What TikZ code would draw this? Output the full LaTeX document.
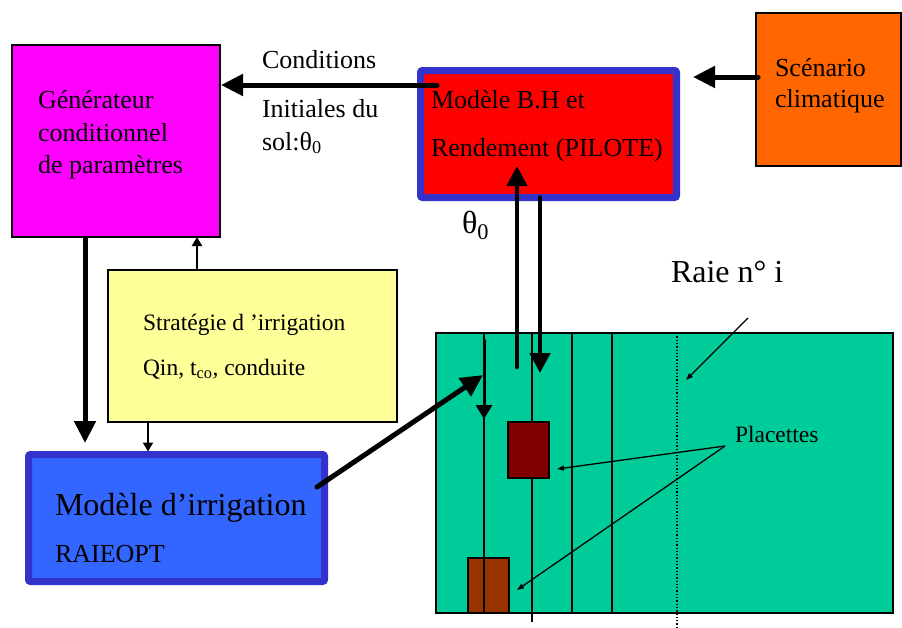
\documentclass[tikz,border=0pt]{standalone}
\usepackage{fontspec}
\setmainfont{Liberation Serif}
\usetikzlibrary{arrows.meta,calc}
\definecolor{genC}{HTML}{FF00FF}
\definecolor{piloteC}{HTML}{FF0000}
\definecolor{frameC}{HTML}{3333CC}
\definecolor{irrC}{HTML}{3366FF}
\definecolor{climC}{HTML}{FF6600}
\definecolor{stratC}{HTML}{FFFF99}
\definecolor{fieldC}{HTML}{00CC99}
\definecolor{plaA}{HTML}{800000}
\definecolor{plaB}{HTML}{993300}
\newcommand\szmain{\fontsize{26}{30}\selectfont}
\newcommand\szmid{\fontsize{23.5}{28}\selectfont}
\newcommand\szbig{\fontsize{32}{36}\selectfont}
\begin{document}
\begin{tikzpicture}[x=1pt,y=-1pt,
  box/.style={draw=black, line width=1.3pt, inner sep=0pt, outer sep=0pt},
  framed/.style={draw=frameC, line width=7pt, rounded corners=2pt, inner sep=0pt, outer sep=0pt},
  txt/.style={inner sep=0pt, outer sep=0pt, anchor=base west, font=\szmain},
  bigarrow/.style={line width=5pt, line cap=round, -{Triangle[length=22pt,width=21pt]}},
  midarrow/.style={line width=4.5pt, line cap=round, -{Triangle[length=20pt,width=20pt]}},
  smallarrow/.style={line width=3pt, -{Triangle[length=14pt,width=16pt]}},
  tinyarrow/.style={line width=2.5pt, -{Triangle[length=9pt,width=10pt]}},
  thinarrow/.style={line width=1.3pt, -{Triangle[length=7pt,width=5pt]}},
  raie/.style={line width=1.3pt}]
\useasboundingbox (0,0) rectangle (902,627);

% boxes
\node[box, fill=genC, minimum width=208pt, minimum height=192pt] (gen) at (116,141) {};
\node[framed, fill=piloteC, minimum width=256pt, minimum height=127pt] (pilote) at (548.5,134) {};
\node[box, fill=climC, minimum width=145pt, minimum height=153pt] (clim) at (828.5,89.5) {};
\node[box, fill=stratC, minimum width=289pt, minimum height=152pt] (strat) at (252.5,346) {};
\node[framed, fill=irrC, minimum width=296pt, minimum height=127pt] (irr) at (176.5,518) {};

% field
\node[box, fill=fieldC, minimum width=457pt, minimum height=280pt] (field) at (664.5,473) {};
\coordinate (r1) at (484,333);
\coordinate (r2) at (532,333);
\coordinate (r3) at (572,333);
\coordinate (r4) at (612,333);
\coordinate (d1) at (677,333);
\draw[raie] (r2) -- ($(r2)+(0,289)$);
\draw[raie] (r3) -- ($(r3)+(0,280)$);
\draw[raie] (r4) -- ($(r4)+(0,280)$);
\draw[line width=1.3pt, dotted] (d1) -- ($(d1)+(0,294)$);
\node[box, fill=plaA, minimum width=41pt, minimum height=56pt] (p1) at (528.5,450) {};
\node[box, fill=plaB, minimum width=41pt, minimum height=55pt] (p2) at (488.5,585.5) {};
\draw[raie] (r1) -- ($(r1)+(0,280)$);

% texts
\node[txt] (g1) at (38,108) {Générateur};
\node[txt] (g2) at (38,141) {conditionnel};
\node[txt] (g3) at (38,173) {de paramètres};
\node[txt] (c1t) at (262,68) {Conditions};
\node[txt] (c2t) at (262,117) {Initiales du};
\node[txt] (c3t) at (262,150) {sol:θ\textsubscript{0}};
\node[txt] (m1) at (431,108) {Modèle B.H et};
\node[txt] (m2) at (431,156) {Rendement (PILOTE)};
\node[txt] (s1) at (775,76) {Scénario};
\node[txt] (s2) at (775,107) {climatique};
\node[txt, font=\szmid] (st1) at (143,330) {Stratégie d ’irrigation};
\node[txt, font=\szmid] (st2) at (143,375) {Qin, t\textsubscript{co}, conduite};
\node[txt, font=\szbig] (i1) at (55,515) {Modèle d’irrigation};
\node[txt] (i2) at (55,562) {RAIEOPT};
\node[txt, font=\szbig] (raielab) at (671,282) {Raie n° i};
\node[txt, font=\szmid] (plalab) at (735,442) {Placettes};
\node[txt, font=\szbig] (theta) at (462,233) {θ\textsubscript{0}};

% connectors
\draw[bigarrow] ($(pilote.north west)+(16.5,14.5)$) -- ($(gen.east)+(1,-56)$);
\draw[bigarrow] ($(clim.west)+(2,-12.5)$) -- ($(pilote.east)+(16.5,-57)$);
\coordinate (x1) at (85,0);
\coordinate (x2) at (197,0);
\coordinate (x3) at (148,0);
\draw[bigarrow, line cap=butt, shorten >=11.5pt] (x1 |- gen.south) -- (x1 |- irr.north);
\draw[tinyarrow] (x2 |- strat.north) -- (x2 |- gen.south);
\draw[tinyarrow, line width=2pt, shorten >=3pt] (x3 |- strat.south) -- (x3 |- irr.north);
\draw[bigarrow] ($(irr.east)+(-7.5,-31)$) -- ($(r1)+(-1,42)$);
\draw[midarrow] ($(field.north west)+(81,34)$) -- ($(pilote.south)+(-31.5,-31.5)$);
\draw[midarrow] ($(pilote.south)+(-8.5,0)$) -- ($(field.north west)+(104,40)$);
\draw[smallarrow, line cap=round] ($(r1)+(0,7)$) -- ($(r1)+(0,86)$);
\coordinate (pl) at (725,446);
\draw[thinarrow] (pl) -- ($(p1.east)+(8,19)$);
\draw[thinarrow] (pl) -- ($(p2.east)+(8,4.5)$);
\coordinate (rl) at (748,318);
\draw[thinarrow] (rl) -- ($(d1)+(9,47)$);
\end{tikzpicture}
\end{document}
